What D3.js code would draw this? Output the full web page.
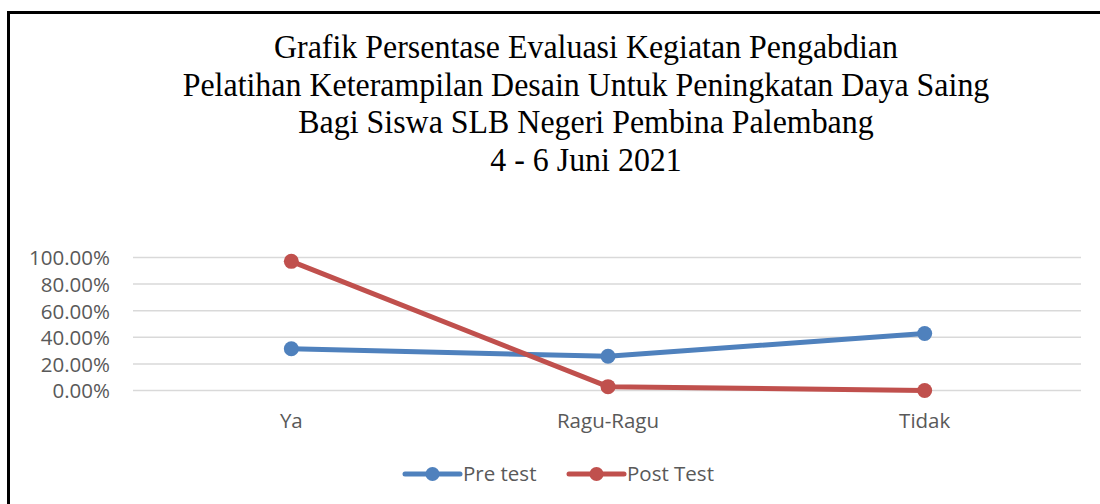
<!DOCTYPE html>
<meta charset="utf-8">
<head>
  <title>Grafik Persentase Evaluasi</title>
</head>
<style>
  body { margin: 0; background: #fff; }
</style>
<body>
  <div id="chart"></div>
  <script src="https://d3js.org/d3.v7.min.js"></script>
  <script>

  // data
  var categories = ["Ya", "Ragu-Ragu", "Tidak"];
  var preTest = [0.314, 0.257, 0.429];
  var postTest = [0.971, 0.029, 0.0];
  var seriesNames = ["Pre test", "Post Test"];
  var yTicks = [0, 0.2, 0.4, 0.6, 0.8, 1.0];
  var titleLines = [
    "Grafik Persentase Evaluasi Kegiatan Pengabdian",
    "Pelatihan Keterampilan Desain Untuk Peningkatan Daya Saing",
    "Bagi Siswa SLB Negeri Pembina Palembang",
    "4 - 6 Juni 2021"
  ];

  var width = 1100, height = 504;
  var colors = ["#4F81BD", "#C0504D"];
  var labelFont = "'Open Sans', sans-serif";
  var labelSize = "20.5px";

  var svg = d3.select("#chart")
    .append("svg")
      .attr("width", width)
      .attr("height", height);

  // frame (only top and left visible)
  svg.append("path")
    .attr("d", "M8.5,504 V12.5 H1100")
    .attr("fill", "none")
    .attr("stroke", "#000")
    .attr("stroke-width", 3);

  // title
  var titleG = svg.append("g");
  var titleCx = 586;
  titleG.selectAll("text")
    .data(titleLines)
    .enter().append("text")
      .attr("x", 0)
      .attr("y", function(d, i) { return 58 + i * 37.6; })
      .attr("text-anchor", "middle")
      .style("font-family", "'Liberation Serif', 'Times New Roman', serif")
      .style("font-size", "34px")
      .attr("fill", "#000")
      .text(function(d) { return d; });
  var w2 = titleG.selectAll("text").nodes()[1].getComputedTextLength();
  var k = 807 / w2;
  titleG.attr("transform", "translate(" + titleCx + ",0) scale(" + k + ",1)");

  // scales
  var x = d3.scaleBand()
    .domain(categories)
    .range([133, 1083]);
  var y = d3.scaleLinear()
    .domain([0, 1])
    .range([390.5, 257.5]);

  // gridlines
  svg.append("g")
    .selectAll("line")
    .data(yTicks)
    .enter().append("line")
      .attr("x1", 133)
      .attr("x2", 1081)
      .attr("y1", function(d) { return y(d); })
      .attr("y2", function(d) { return y(d); })
      .attr("stroke", "#D9D9D9")
      .attr("stroke-width", 1.5);

  // y axis labels
  var yAxis = d3.axisLeft(y)
    .tickValues(yTicks)
    .tickSize(0)
    .tickPadding(0)
    .tickFormat(d3.format(".2%"));
  var yG = svg.append("g")
    .attr("transform", "translate(110,0)")
    .call(yAxis);
  yG.select(".domain").remove();
  yG.selectAll("text")
    .attr("dy", "0.36em")
    .style("font-family", labelFont)
    .style("font-size", labelSize)
    .attr("fill", "#595959");

  // x axis labels
  var xAxis = d3.axisBottom(x).tickSize(0).tickPadding(0);
  var xG = svg.append("g")
    .attr("transform", "translate(0,413)")
    .call(xAxis);
  xG.select(".domain").remove();
  xG.selectAll("text")
    .attr("dy", "0.71em")
    .style("font-family", labelFont)
    .style("font-size", labelSize)
    .attr("fill", "#595959");

  // lines + markers
  var series = [preTest, postTest];
  var line = d3.line()
    .x(function(d, i) { return x(categories[i]) + x.bandwidth() / 2; })
    .y(function(d) { return y(d); });

  series.forEach(function(vals, s) {
    var g = svg.append("g");
    g.append("path")
      .datum(vals)
      .attr("d", line)
      .attr("fill", "none")
      .attr("stroke", colors[s])
      .attr("stroke-width", 5)
      .attr("stroke-linejoin", "round")
      .attr("stroke-linecap", "round");
    g.selectAll("circle")
      .data(vals)
      .enter().append("circle")
        .attr("cx", function(d, i) { return x(categories[i]) + x.bandwidth() / 2; })
        .attr("cy", function(d) { return y(d); })
        .attr("r", 7.5)
        .attr("fill", colors[s]);
  });

  // legend
  var legendX = [405, 569];
  var legend = svg.append("g")
    .selectAll("g")
    .data(seriesNames)
    .enter().append("g")
      .attr("transform", function(d, i) { return "translate(" + legendX[i] + ",474)"; });
  legend.append("line")
    .attr("x1", 0).attr("x2", 55)
    .attr("stroke", function(d, i) { return colors[i]; })
    .attr("stroke-width", 5)
    .attr("stroke-linecap", "round");
  legend.append("circle")
    .attr("cx", 27.5)
    .attr("r", 7)
    .attr("fill", function(d, i) { return colors[i]; });
  legend.append("text")
    .attr("x", 58)
    .attr("dy", "0.36em")
    .style("font-family", labelFont)
    .style("font-size", labelSize)
    .attr("fill", "#595959")
    .text(function(d) { return d; });

  </script>
</body>
</html>
